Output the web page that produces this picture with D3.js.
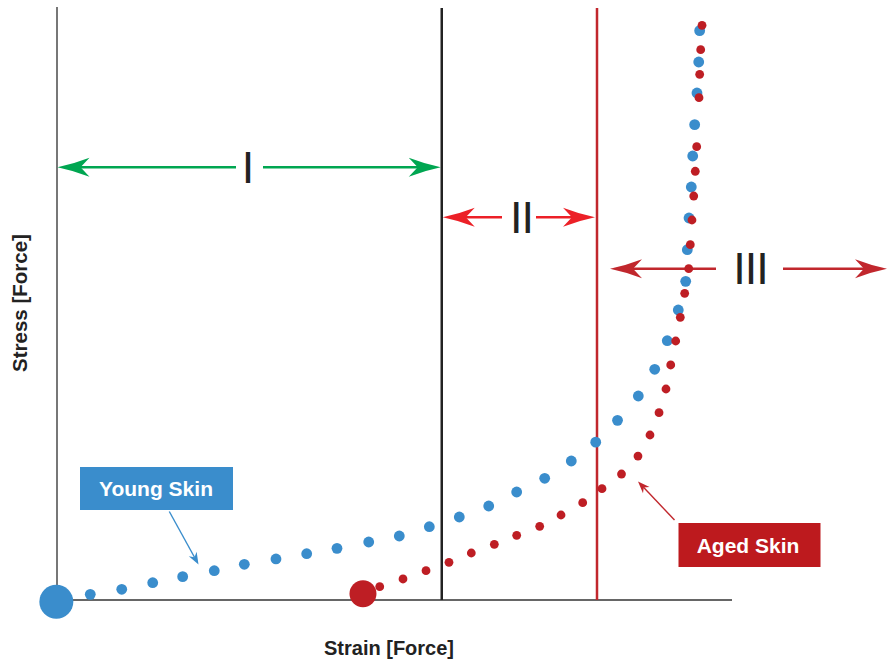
<!DOCTYPE html>
<html>
<head>
<meta charset="utf-8">
<script src="https://cdn.jsdelivr.net/npm/d3@7"></script>
<style>
  html, body { margin: 0; padding: 0; background: #fff; }
  svg { display: block; }
  text { font-family: "Liberation Sans", Arial, Helvetica, sans-serif; }
</style>
</head>
<body>
<svg id="chart" width="888" height="659"></svg>
<script>
// ---- Data (strain / stress in arbitrary units) ----
const youngStart = [-0.1, -0.3];
const youngX = [4.93, 9.59, 14.18, 18.62, 23.30, 27.75, 32.44, 36.99, 41.48, 46.18, 50.71, 55.16, 59.60, 63.96, 68.10, 72.25, 76.19, 79.81, 83.04, 86.12, 88.55, 90.41, 92.04, 93.14, 93.38, 93.63, 93.97, 94.18, 94.47, 94.81, 95.07, 95.21];
const youngY = [0.96, 1.81, 2.92, 3.94, 4.95, 6.03, 6.93, 7.82, 8.73, 9.80, 10.81, 12.38, 14.02, 15.88, 18.24, 20.56, 23.48, 26.66, 30.35, 34.46, 38.97, 43.80, 48.99, 53.83, 59.17, 64.53, 69.76, 75.00, 80.29, 85.64, 90.88, 96.17];

const agedStart = [45.33, 1.06];
const agedX = [47.81, 51.26, 54.67, 58.07, 61.38, 64.79, 68.10, 71.51, 74.67, 77.88, 80.74, 83.63, 86.07, 87.85, 89.19, 90.22, 90.92, 91.66, 92.34, 92.99, 93.59, 93.82, 94.07, 94.33, 94.56, 94.77, 95.11, 95.21, 95.36, 95.56];
const agedY = [2.25, 3.55, 4.95, 6.37, 7.94, 9.41, 10.93, 12.45, 14.36, 16.44, 18.80, 21.28, 24.32, 27.87, 31.64, 35.64, 39.70, 43.75, 47.75, 51.81, 55.96, 60.02, 64.19, 68.24, 72.42, 76.57, 84.85, 88.80, 92.96, 97.08];

// Region boundaries (strain) and region labels
const boundaries = [57, 80];
const regionLabels = ["I", "II", "III"];
const seriesLabels = ["Young Skin", "Aged Skin"];
const axisLabels = { x: "Strain [Force]", y: "Stress [Force]" };

// ---- Scales ----
const x = d3.scaleLinear().domain([0, 100]).range([57, 732]);
const y = d3.scaleLinear().domain([0, 100]).range([600, 8]);

const svg = d3.select("#chart");

const BLUE = "#3a8dcc";
const RED_DOT = "#be1e24";
const RED_LINE = "#c1272d";
const RED_BRIGHT = "#ec2027";
const GREEN = "#00a651";

// ---- Axes (plain lines, no ticks) ----
svg.append("line")
  .attr("x1", x(0)).attr("x2", x(0)).attr("y1", y(100) - 1).attr("y2", y(0))
  .attr("stroke", "#555").attr("stroke-width", 1.6);
svg.append("line")
  .attr("x1", x(0)).attr("x2", x(100)).attr("y1", y(0)).attr("y2", y(0))
  .attr("stroke", "#333").attr("stroke-width", 1.6);

// Boundary lines
svg.append("line")
  .attr("x1", x(boundaries[0])).attr("x2", x(boundaries[0]))
  .attr("y1", y(100)).attr("y2", y(0))
  .attr("stroke", "#222").attr("stroke-width", 2.5);
svg.append("line")
  .attr("x1", x(boundaries[1])).attr("x2", x(boundaries[1]))
  .attr("y1", y(100)).attr("y2", y(0))
  .attr("stroke", RED_LINE).attr("stroke-width", 2.5);

// ---- Double arrows ----
function arrowHead(g, tipX, tipY, dir, color, len, half) {
  const p = d3.path();
  p.moveTo(tipX, tipY);
  p.quadraticCurveTo(tipX - dir * len * 0.5, tipY - half * 0.35, tipX - dir * len, tipY - half);
  p.lineTo(tipX - dir * len * 0.72, tipY);
  p.lineTo(tipX - dir * len, tipY + half);
  p.quadraticCurveTo(tipX - dir * len * 0.5, tipY + half * 0.35, tipX, tipY);
  p.closePath();
  g.append("path").attr("d", p.toString()).attr("fill", color);
}

function doubleArrow(x0, x1, yy, gapL, gapR, color, label, labelX) {
  const g = svg.append("g");
  g.append("line").attr("x1", x0 + 20).attr("x2", gapL).attr("y1", yy).attr("y2", yy)
    .attr("stroke", color).attr("stroke-width", 2.6);
  g.append("line").attr("x1", gapR).attr("x2", x1 - 20).attr("y1", yy).attr("y2", yy)
    .attr("stroke", color).attr("stroke-width", 2.6);
  arrowHead(g, x0, yy, -1, color, 32, 9.5);
  arrowHead(g, x1, yy, 1, color, 32, 9.5);
  g.append("text")
    .attr("x", labelX).attr("y", yy)
    .attr("text-anchor", "middle").attr("dominant-baseline", "central")
    .attr("font-size", 45)
    .attr("fill", "#222")
    .attr("letter-spacing", -1)
    .text(label);
}

// Region I
doubleArrow(x(0) + 0.5, x(boundaries[0]) - 1, 167.3, 236, 263, GREEN, regionLabels[0], 247.5);
// Region II
doubleArrow(x(boundaries[0]) + 1, x(boundaries[1]) - 2, 217.3, 502, 536, RED_BRIGHT, regionLabels[1], 521.5);
// Region III
doubleArrow(610, 887, 268.7, 716, 783, RED_LINE, regionLabels[2], 750.5);

// ---- Dots ----
const young = youngX.map((v, i) => ({ x: v, y: youngY[i] }));
const aged = agedX.map((v, i) => ({ x: v, y: agedY[i] }));

svg.append("g").selectAll("circle").data(young).join("circle")
  .attr("cx", d => x(d.x)).attr("cy", d => y(d.y)).attr("r", 5.4).attr("fill", BLUE);
svg.append("circle")
  .attr("cx", x(youngStart[0])).attr("cy", y(youngStart[1])).attr("r", 17).attr("fill", BLUE);

svg.append("g").selectAll("circle").data(aged).join("circle")
  .attr("cx", d => x(d.x)).attr("cy", d => y(d.y)).attr("r", 4.4).attr("fill", RED_DOT);
svg.append("circle")
  .attr("cx", x(agedStart[0])).attr("cy", y(agedStart[1])).attr("r", 13.5).attr("fill", RED_DOT);

// ---- Callout labels ----
function pointer(x0, y0, x1, y1, color) {
  const ang = Math.atan2(y1 - y0, x1 - x0);
  const len = 12, half = 4.5;
  const bx = x1 - Math.cos(ang) * len, by = y1 - Math.sin(ang) * len;
  svg.append("line").attr("x1", x0).attr("y1", y0)
    .attr("x2", x1 - Math.cos(ang) * 8).attr("y2", y1 - Math.sin(ang) * 8)
    .attr("stroke", color).attr("stroke-width", 1.4);
  const nx = -Math.sin(ang), ny = Math.cos(ang);
  const notchX = x1 - Math.cos(ang) * len * 0.7, notchY = y1 - Math.sin(ang) * len * 0.7;
  svg.append("path")
    .attr("d", `M${x1},${y1} L${bx + nx * half},${by + ny * half} L${notchX},${notchY} L${bx - nx * half},${by - ny * half} Z`)
    .attr("fill", color);
}

// Young Skin
svg.append("rect").attr("x", 80).attr("y", 467).attr("width", 153).attr("height", 43).attr("fill", BLUE);
svg.append("text").attr("x", 156).attr("y", 496).attr("text-anchor", "middle")
  .attr("font-size", 21).attr("font-weight", "bold").attr("fill", "#fff").text(seriesLabels[0]);
pointer(169.3, 511.5, 198.5, 564.5, BLUE);

// Aged Skin
svg.append("rect").attr("x", 678.5).attr("y", 523).attr("width", 142).attr("height", 44).attr("fill", "#bd1a1e");
svg.append("text").attr("x", 748).attr("y", 552.5).attr("text-anchor", "middle")
  .attr("font-size", 21).attr("font-weight", "bold").attr("fill", "#fff").text(seriesLabels[1]);
pointer(674.5, 520, 638, 481.5, RED_LINE);

// ---- Axis titles ----
svg.append("text").attr("x", 389).attr("y", 655).attr("text-anchor", "middle")
  .attr("font-size", 20).attr("font-weight", "bold").attr("fill", "#222").text(axisLabels.x);
svg.append("text")
  .attr("transform", "translate(26.5,303) rotate(-90)")
  .attr("text-anchor", "middle")
  .attr("font-size", 20.5).attr("font-weight", "bold").attr("fill", "#222").text(axisLabels.y);
</script>
</body>
</html>
